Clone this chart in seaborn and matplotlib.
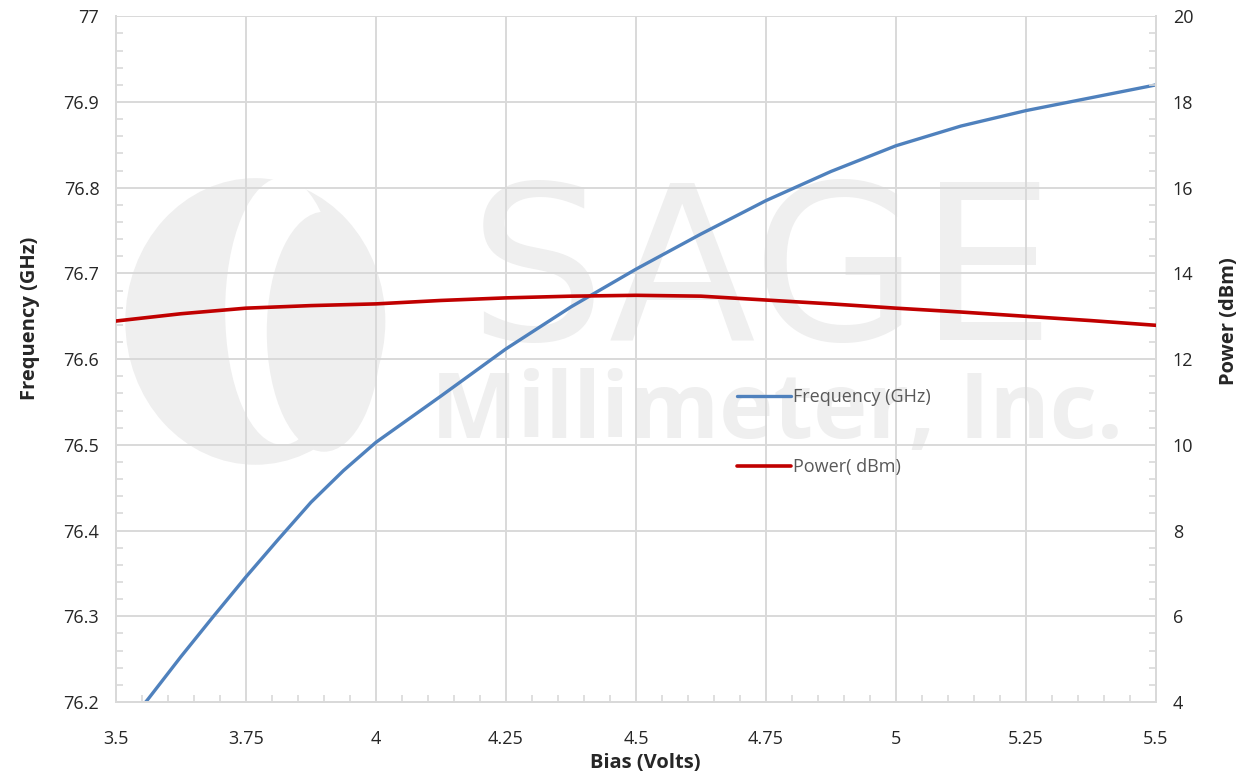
import numpy as np
import pandas as pd
import matplotlib
matplotlib.use("Agg")
import matplotlib.pyplot as plt
from matplotlib.patches import Ellipse
from matplotlib.ticker import MultipleLocator
import seaborn as sns

# ── data ──────────────────────────────────────────────────────────────────
freq_bias  = [3.5, 3.5625, 3.625, 3.6875, 3.75, 3.8125, 3.875, 3.9375, 4.0, 4.0625, 4.125,
              4.25, 4.375, 4.5, 4.625, 4.75, 4.875, 5.0, 5.125, 5.25, 5.375, 5.5]
freq_ghz   = [76.157, 76.204, 76.253, 76.300, 76.346, 76.390, 76.433, 76.470, 76.503, 76.530, 76.557,
              76.612, 76.661, 76.705, 76.746, 76.785, 76.819, 76.849, 76.872, 76.890, 76.905, 76.920]

power_bias = [3.5, 3.625, 3.75, 3.875, 4.0, 4.125, 4.25, 4.375, 4.5, 4.625, 4.75, 4.875,
              5.0, 5.125, 5.25, 5.375, 5.5]
power_dbm  = [12.89, 13.06, 13.19, 13.25, 13.29, 13.37, 13.43, 13.47, 13.49, 13.47, 13.38, 13.29,
              13.19, 13.10, 13.00, 12.90, 12.79]

x_ticks     = [3.5, 3.75, 4.0, 4.25, 4.5, 4.75, 5.0, 5.25, 5.5]
x_ticklabel = ["3.5", "3.75", "4", "4.25", "4.5", "4.75", "5", "5.25", "5.5"]
freq_ticks  = [76.2, 76.3, 76.4, 76.5, 76.6, 76.7, 76.8, 76.9, 77.0]
freq_labels = ["76.2", "76.3", "76.4", "76.5", "76.6", "76.7", "76.8", "76.9", "77"]
power_ticks = [4, 6, 8, 10, 12, 14, 16, 18, 20]

df_f = pd.DataFrame({"bias": freq_bias, "freq": freq_ghz})
df_p = pd.DataFrame({"bias": power_bias, "power": power_dbm})

BLUE = "#4f81bd"
RED = "#c00000"
GRID = "#d9d9d9"
WM = "#efefef"

sns.set_style("white")
plt.rcParams["font.family"] = ["Open Sans", "DejaVu Sans"]

fig = plt.figure(figsize=(12.47, 7.77), dpi=100)
ax = fig.add_axes([0.093, 0.0965, 0.834, 0.8825])
ax2 = ax.twinx()

# faint company watermark behind the grid
ax.add_patch(Ellipse((0.134, 0.555), 0.25, 0.418, transform=ax.transAxes,
                     color=WM, zorder=0.1, lw=0))
ax.add_patch(Ellipse((0.16, 0.57), 0.11, 0.39, transform=ax.transAxes,
                     color="white", zorder=0.15, lw=0))
ax.add_patch(Ellipse((0.2, 0.54), 0.11, 0.35, transform=ax.transAxes,
                     color=WM, zorder=0.2, lw=0))
ax.text(0.621, 0.615, "SAGE", transform=ax.transAxes, ha="center", va="center",
        fontsize=155, color=WM, zorder=0.1, family="DejaVu Sans")
ax.text(0.636, 0.42, "Millimeter, Inc.", transform=ax.transAxes, ha="center", va="center",
        fontsize=66, color=WM, fontweight="bold", zorder=0.1, family="Open Sans")

sns.lineplot(data=df_f, x="bias", y="freq", ax=ax, color=BLUE, lw=2.4,
             label="Frequency (GHz)", legend=False, zorder=3)
sns.lineplot(data=df_p, x="bias", y="power", ax=ax2, color=RED, lw=2.6,
             label="Power( dBm)", legend=False, zorder=3)

ax.set_xlim(3.5, 5.5)
ax.set_ylim(76.2, 77.0)
ax2.set_ylim(4, 20)
ax.set_xticks(x_ticks)
ax.set_xticklabels(x_ticklabel)
ax.set_yticks(freq_ticks)
ax.set_yticklabels(freq_labels)
ax2.set_yticks(power_ticks)
ax.xaxis.set_minor_locator(MultipleLocator(0.05))
ax.yaxis.set_minor_locator(MultipleLocator(0.02))
ax2.yaxis.set_minor_locator(MultipleLocator(0.4))

ax.grid(True, which="major", color=GRID, lw=1.4, zorder=0.5)
ax.set_axisbelow(False)
for a in (ax, ax2):
    for s in a.spines.values():
        s.set_color(GRID)
        s.set_linewidth(1.4)
    a.spines["top"].set_visible(False)

ax.tick_params(axis="x", which="major", length=0, labelsize=13, pad=20)
ax.tick_params(axis="y", which="major", length=0, labelsize=13, pad=12)
ax.tick_params(axis="both", which="minor", direction="in", length=5, color=GRID, width=1.2)
ax.tick_params(axis="x", which="minor", bottom=True)
ax.tick_params(axis="y", which="minor", left=True)
ax2.tick_params(axis="y", which="major", length=0, labelsize=13, pad=12)
ax2.tick_params(axis="y", which="minor", direction="in", length=5, color=GRID, width=1.2, right=True)

ax.set_xlabel("Bias (Volts)", fontsize=14.5, fontweight="bold")
ax.set_ylabel("Frequency (GHz)", fontsize=14.5, fontweight="bold")
ax2.set_ylabel("Power (dBm)", fontsize=14.5, fontweight="bold")
ax.xaxis.set_label_coords(0.509, -0.074)
ax.yaxis.set_label_coords(-0.073, 0.56)
ax2.yaxis.set_label_coords(1.061, 0.555)

h1, l1 = ax.get_legend_handles_labels()
h2, l2 = ax2.get_legend_handles_labels()
leg = ax2.legend(h1 + h2, l1 + l2, loc="upper left", bbox_to_anchor=(0.578, 0.521),
                 bbox_transform=fig.transFigure, frameon=False, fontsize=13,
                 labelspacing=2.85, handlelength=3.0, handletextpad=0.1)
for t in leg.get_texts():
    t.set_color("#595959")

fig.savefig("out.png", dpi=100)
